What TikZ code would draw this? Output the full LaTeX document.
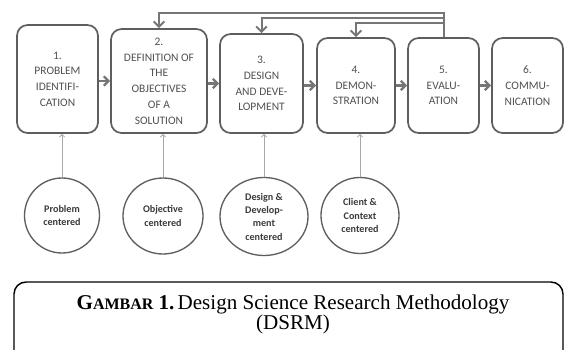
\documentclass[tikz,border=0pt]{standalone}
\usepackage{fontspec}
\setmainfont{Liberation Serif}
\newfontfamily\boxfont{Carlito}
\usetikzlibrary{arrows.meta,positioning,shapes.geometric}
\definecolor{dsgray}{HTML}{5E5E5E}
\definecolor{dstext}{HTML}{505050}
\definecolor{dslight}{HTML}{A8A8A8}
\definecolor{dsdark}{HTML}{3A3A3A}

\begin{document}
\begin{tikzpicture}[x=0.75pt, y=-0.75pt,
  stage/.style={draw=dsgray, line width=1.3pt, rounded corners=8pt,
                align=center, inner sep=0pt, text=dstext,
                font=\boxfont\fontsize{8.6}{11.8}\selectfont},
  focus/.style={ellipse, draw=dsgray, line width=1pt, inner sep=0pt,
                align=center, text=dsdark,
                font=\boxfont\bfseries\fontsize{7.6}{10}\selectfont},
  flow/.style={-{Straight Barb[length=3.5pt, width=7pt]}, line width=1.7pt, dsgray!85},
  back/.style={-{Straight Barb[length=4pt, width=8pt]}, line width=1.5pt, dsgray!85},
  entry/.style={-{Straight Barb[length=2pt, width=4pt]}, line width=0.6pt, dslight},
  caplbl/.style={align=center, text=black, font=\fontsize{15.8}{15}\selectfont},
]
\useasboundingbox (0,0) rectangle (565,350);

%% ---- tahapan DSRM ----
\node[stage, minimum width=60.75pt, minimum height=81pt] (b1) at (57.5,79)
  {1.\\PROBLEM\\IDENTIFI-\\CATION};
\node[stage, minimum width=72pt, minimum height=78pt] (b2) at (159,81)
  {2.\\DEFINITION OF\\THE\\OBJECTIVES\\OF A\\SOLUTION};
\node[stage, minimum width=62.25pt, minimum height=74.25pt] (b3) at (261.5,83.5)
  {3.\\DESIGN\\AND DEVE-\\LOPMENT};
\node[stage, minimum width=58.5pt, minimum height=71.25pt] (b4) at (356,85.5)
  {4.\\DEMON-\\STRATION};
\node[stage, minimum width=53.25pt, minimum height=71.25pt] (b5) at (443.5,85.5)
  {5.\\EVALU-\\ATION};
\node[stage, minimum width=53.25pt, minimum height=71.25pt] (b6) at (527.5,85.5)
  {6.\\COMMU-\\NICATION};

%% ---- panah antar tahap ----
\draw[flow] (b1.east |- b2.west) -- (b2.west);
\draw[flow] (b2.east |- b3.west) -- (b3.west);
\draw[flow] (b3.east |- b4.west) -- (b4.west);
\draw[flow] (b4.east) -- (b5.west);
\draw[flow] (b5.east) -- (b6.west);

%% ---- iterasi balik dari evaluasi ----
\draw[back] (b5.north) -- ++(0,-24) -| (b2.north);
\draw[back] (b5.north) -- ++(0,-19) -| (b3.north);
\draw[back] (b5.north) -- ++(0,-14) -| (b4.north);

%% ---- titik masuk penelitian ----
\node[focus, minimum width=56.25pt, minimum height=56.25pt] (c1) at (62,215.5)
  {Problem\\centered};
\node[focus, minimum width=60pt, minimum height=57pt] (c2) at (163,216)
  {Objective\\centered};
\node[focus, minimum width=66pt, minimum height=58.5pt] (c3) at (264,216.5)
  {Design \&\\Develop-\\ment\\centered};
\node[focus, minimum width=58.5pt, minimum height=57pt] (c4) at (360,215.5)
  {Client \&\\Context\\centered};

\draw[entry] (c1.north) -- (c1.north |- b1.south);
\draw[entry] (c2.north) -- (c2.north |- b2.south);
\draw[entry] (c3.north) -- (c3.north |- b3.south);
\draw[entry] (c4.north) -- (c4.north |- b4.south);

%% ---- keterangan gambar ----
\draw[line width=1.1pt, rounded corners=9pt] (14,370) |- (563,282) -- (563,370);
\node[caplbl] (cap) at (293,314)
  {\textbf{G{\fontsize{12}{15}\selectfont AMBAR} 1.}\hspace{0.15em}Design Science Research Methodology\\(DSRM)};

\end{tikzpicture}
\end{document}
